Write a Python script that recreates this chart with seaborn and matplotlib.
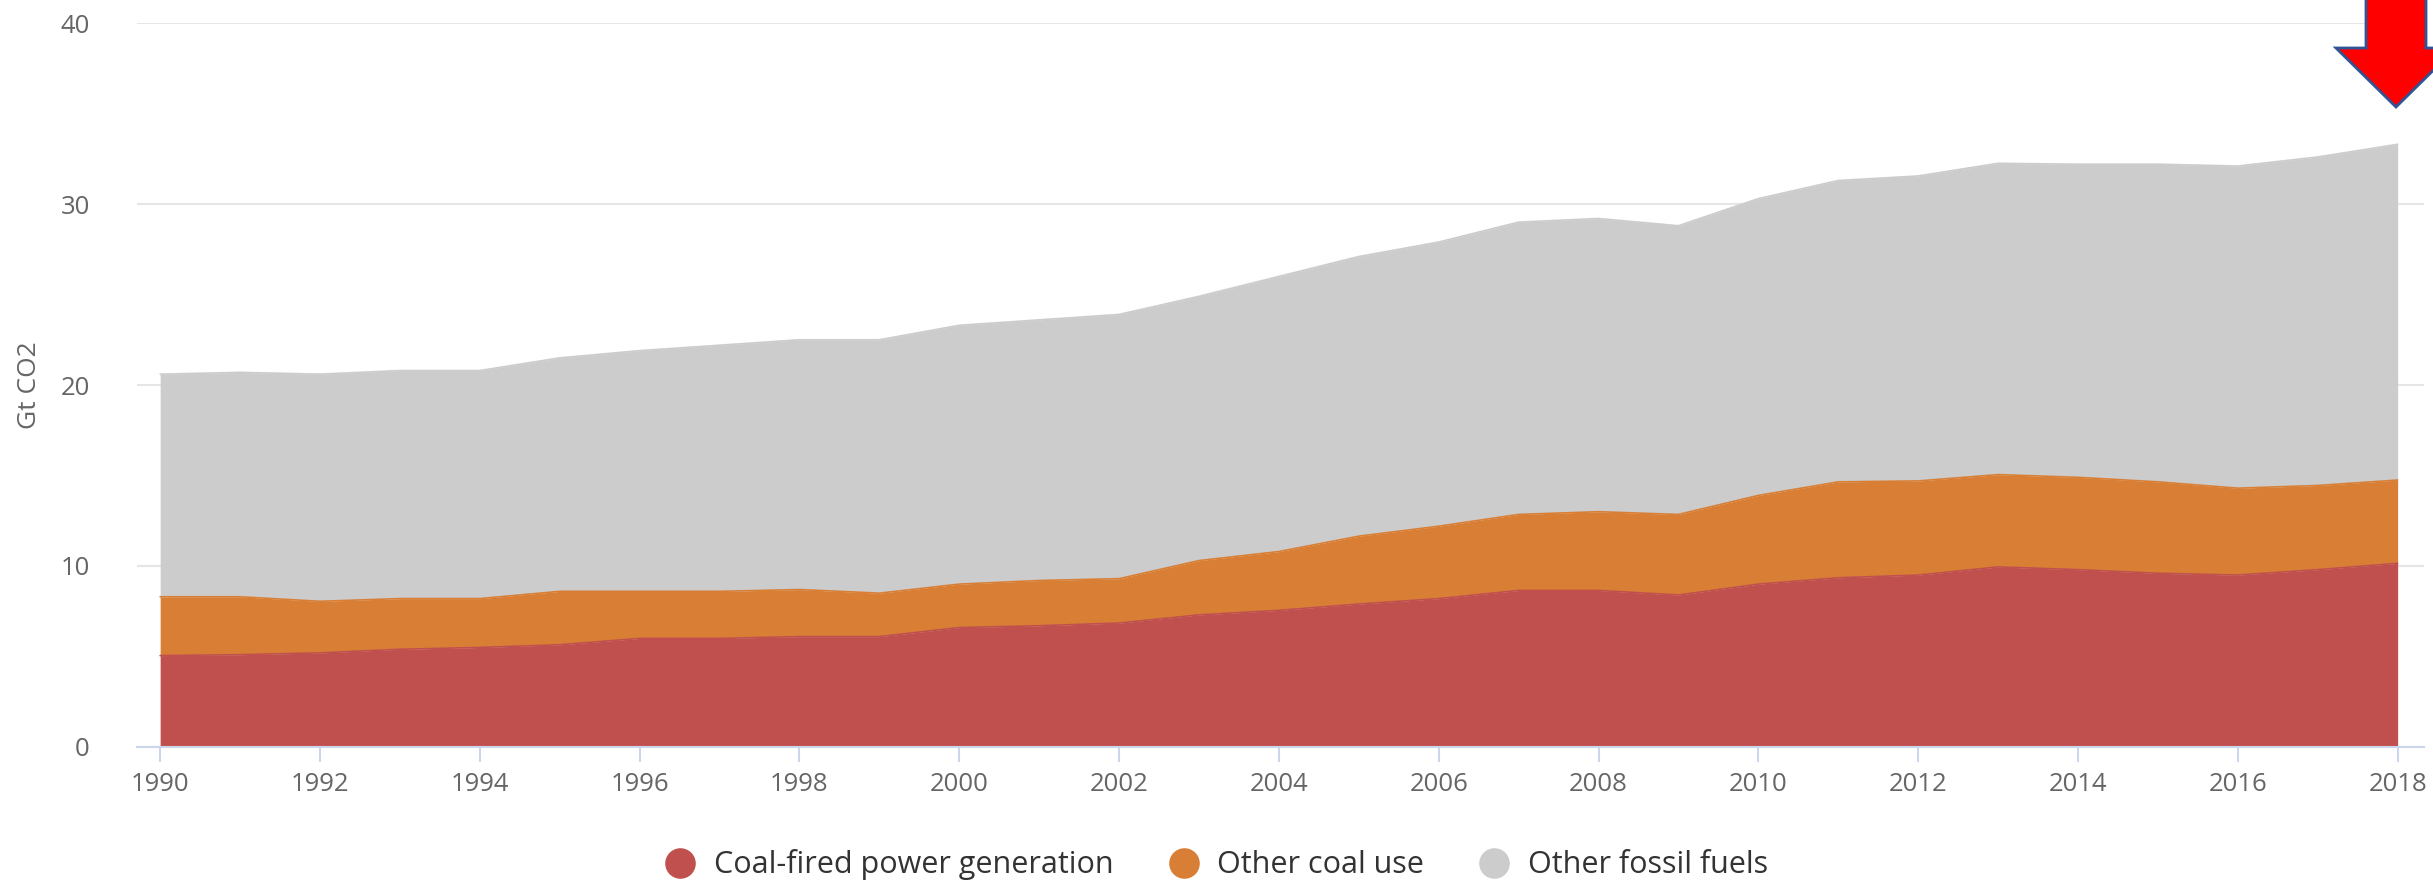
"""
Stacked area chart: CO2 emissions from coal-fired power, other coal use
and other fossil fuels, 1990-2018.
"""

import matplotlib

matplotlib.use("Agg")

import matplotlib.pyplot as plt
import numpy as np
import seaborn as sns
from matplotlib.lines import Line2D
from matplotlib.patches import Polygon

# Data (Gt CO2)
years = list(range(1990, 2019))
coal_power = [5.05, 5.1, 5.2, 5.4, 5.5, 5.65, 6.0, 6.0, 6.1, 6.1,
              6.6, 6.7, 6.85, 7.3, 7.55, 7.9, 8.2, 8.65, 8.65, 8.4,
              9.0, 9.35, 9.5, 9.95, 9.8, 9.6, 9.5, 9.8, 10.15]
other_coal = [3.25, 3.2, 2.85, 2.8, 2.7, 2.95, 2.6, 2.6, 2.6, 2.4,
              2.4, 2.5, 2.45, 3.0, 3.25, 3.75, 4.0, 4.2, 4.35, 4.45,
              4.9, 5.3, 5.2, 5.1, 5.1, 5.05, 4.8, 4.65, 4.6]
other_fossil = [12.3, 12.4, 12.55, 12.6, 12.6, 12.9, 13.3, 13.6, 13.8, 14.0,
                14.3, 14.4, 14.6, 14.6, 15.2, 15.45, 15.7, 16.15, 16.2, 15.95,
                16.4, 16.65, 16.85, 17.2, 17.3, 17.55, 17.8, 18.15, 18.55]

series_names = ["Coal-fired power generation", "Other coal use", "Other fossil fuels"]
colors = ["#c0504d", "#d97f35", "#cccccc"]

sns.set_theme(style="white")
plt.rcParams["font.family"] = ["Open Sans", "DejaVu Sans"]

fig = plt.figure(figsize=(24.33, 8.86), dpi=100)
ax = fig.add_axes([0.0563, 0.1569, 0.94, 0.8171])

ax.stackplot(years, coal_power, other_coal, other_fossil, colors=colors, linewidth=0)

# top edge of each band
tops = np.cumsum([coal_power, other_coal, other_fossil], axis=0)
for top, color in zip(tops, colors):
    sns.lineplot(x=years, y=top, color=color, linewidth=1.2, ax=ax)

ax.set_xlim(1989.71, 2018.33)
ax.set_ylim(0, 40)
ax.set_xticks(range(1990, 2019, 2))
ax.set_yticks(range(0, 41, 10))

ax.grid(axis="y", color="#e6e6e6", linewidth=1.5)
ax.set_axisbelow(True)
for side in ["top", "right", "left"]:
    ax.spines[side].set_visible(False)
ax.spines["bottom"].set_color("#ccd6eb")
ax.spines["bottom"].set_linewidth(1.5)

ax.tick_params(axis="x", bottom=True, length=11, width=1.5, color="#ccd6eb",
               pad=7, labelsize=18.5, labelcolor="#666666")
ax.tick_params(axis="y", left=False, pad=28, labelsize=18.5, labelcolor="#666666")

ax.set_xlabel("")
ax.set_ylabel("Gt CO2", fontsize=19, color="#666666")
ax.yaxis.set_label_coords(-0.0415, 0.5)

handles = [
    Line2D([], [], marker="o", linestyle="none", markersize=21,
           markerfacecolor=c, markeredgecolor=c)
    for c in colors
]
fig.legend(handles, series_names, loc="center", bbox_to_anchor=(0.5, 0.024),
           ncol=3, frameon=False, fontsize=22, labelcolor="#333333",
           handlelength=1.0, handletextpad=0.6, columnspacing=1.8)

# red arrow pointing at the last year
W, H = 2433, 886
arrow_px = [(2366, -5), (2366, 48), (2336, 48), (2396, 107),
            (2456, 48), (2426, 48), (2426, -5)]
arrow = Polygon([(x / W, 1 - y / H) for x, y in arrow_px], closed=True,
                transform=fig.transFigure, facecolor="#ff0000",
                edgecolor="#2f5597", linewidth=2, clip_on=False)
fig.patches.append(arrow)

fig.savefig("out.png", dpi=100)
plt.close(fig)
